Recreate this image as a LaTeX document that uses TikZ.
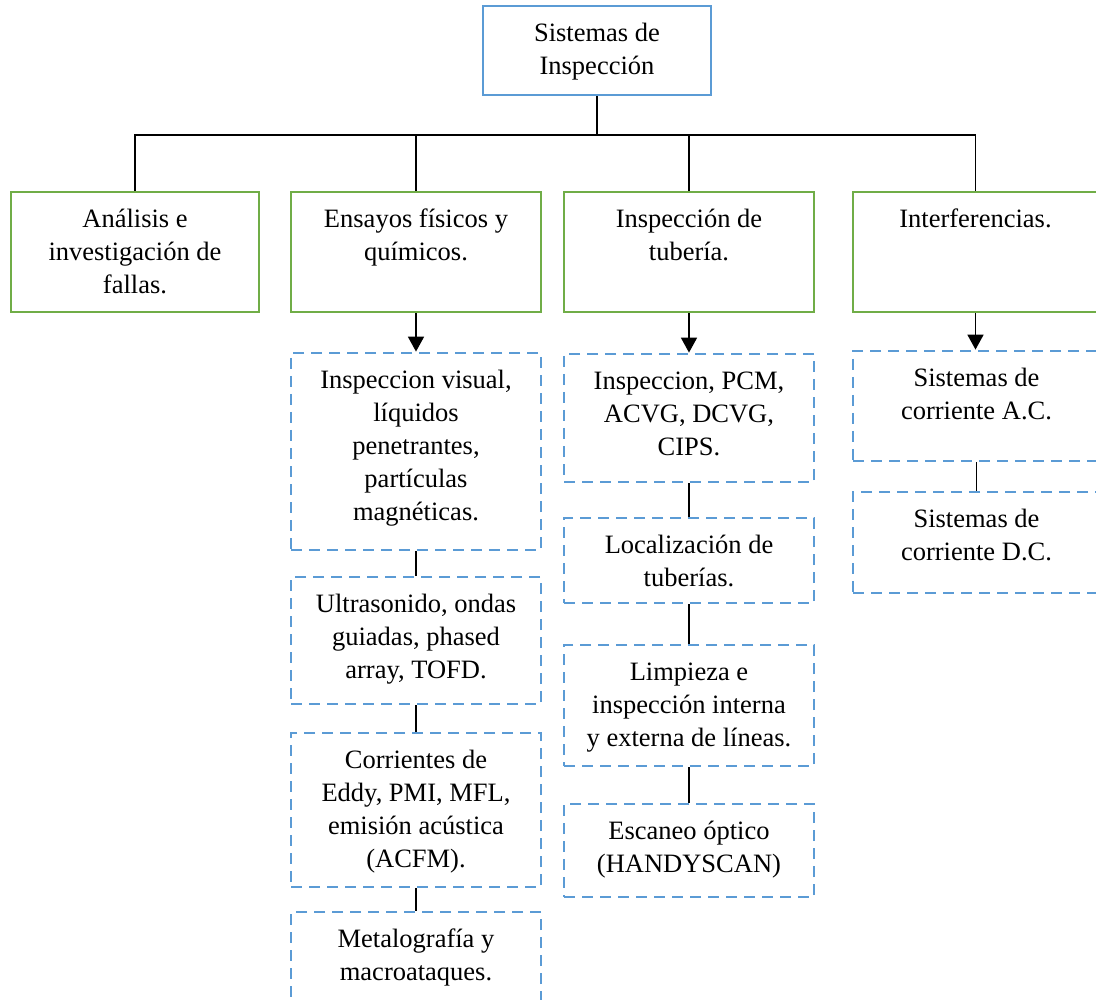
\documentclass[tikz,border=0pt]{standalone}
\usepackage{fontspec}
\setmainfont{Liberation Serif}
\usetikzlibrary{arrows.meta,fit}
\definecolor{bblue}{HTML}{5B9BD5}
\definecolor{bgreen}{HTML}{70AD47}
\newcommand\mkbox[7]{%
  \node[#2, fit={(#3,#4) (#5,#6)}] (#1) {};
  \node[lbl] (#1t) at ({(#3+#5)/2},{#4+9}) {\rule{0pt}{26pt}#7};
}
\begin{document}
\begin{tikzpicture}[x=1pt,y=-1pt,
  box/.style={draw, line width=2.8pt, inner sep=0pt},
  topbox/.style={box, draw=bblue},
  mainbox/.style={box, draw=bgreen},
  subbox/.style={box, draw=bblue, dash pattern=on 11pt off 7pt},
  lbl/.style={anchor=north, inner sep=0pt, align=center, font=\fontsize{26.5}{33}\selectfont},
  link/.style={draw=black, line width=1.8pt},
  arr/.style={link, -{Triangle[width=16pt,length=15pt]}}
]
\path[use as bounding box, clip] (0,0) rectangle (1096,1000);
\fill[white] (0,0) rectangle (1096,1000);

\mkbox{T}{topbox}{483}{6}{711}{95}{Sistemas de\\Inspección}
\mkbox{G1}{mainbox}{11}{192}{259}{312}{Análisis e\\investigación de\\fallas.}
\mkbox{G2}{mainbox}{291}{192}{541}{312}{Ensayos físicos y\\químicos.}
\mkbox{G3}{mainbox}{564}{192}{814}{312}{Inspección de\\tubería.}
\mkbox{G4}{mainbox}{853}{192}{1098}{312}{Interferencias.}

\mkbox{D21}{subbox}{291}{353}{541}{550}{Inspeccion visual,\\líquidos\\penetrantes,\\partículas\\magnéticas.}
\mkbox{D22}{subbox}{291}{577}{541}{704}{Ultrasonido, ondas\\guiadas, phased\\array, TOFD.}
\mkbox{D23}{subbox}{291}{733}{541}{887}{Corrientes de\\Eddy, PMI, MFL,\\emisión acústica\\(ACFM).}
\mkbox{D24}{subbox}{291}{912}{541}{1040}{Metalografía y\\macroataques.}

\mkbox{D31}{subbox}{564}{354}{814}{482}{Inspeccion, PCM,\\ACVG, DCVG,\\CIPS.}
\mkbox{D32}{subbox}{564}{518}{814}{603}{Localización de\\tuberías.}
\mkbox{D33}{subbox}{564}{645}{814}{766}{Limpieza e\\inspección interna\\y externa de líneas.}
\mkbox{D34}{subbox}{564}{804}{814}{897}{Escaneo óptico\\(HANDYSCAN)}

\mkbox{D41}{subbox}{853}{351}{1100}{461}{Sistemas de\\corriente A.C.}
\mkbox{D42}{subbox}{853}{492}{1100}{593}{Sistemas de\\corriente D.C.}

% tree connectors
\draw[link] (T.south) -- ++(0,39) coordinate (bus);
\draw[link] (G1.north) -- (G1.north |- bus) -- (G4.north |- bus) -- (G4.north);
\draw[link] (G2.north) -- (G2.north |- bus);
\draw[link] (G3.north) -- (G3.north |- bus);

% arrows
\draw[arr] (G2.south) -- (G2.south |- D21.north);
\draw[arr] (G3.south) -- (G3.south |- D31.north);
\draw[arr] (G4.south) -- (G4.south |- D41.north);

% chains
\draw[link] (D21.south) -- (D21.south |- D22.north);
\draw[link] (D22.south) -- (D22.south |- D23.north);
\draw[link] (D23.south) -- (D23.south |- D24.north);
\draw[link] (D31.south) -- (D31.south |- D32.north);
\draw[link] (D32.south) -- (D32.south |- D33.north);
\draw[link] (D33.south) -- (D33.south |- D34.north);
\draw[link] (D41.south) -- (D41.south |- D42.north);
\end{tikzpicture}
\end{document}
